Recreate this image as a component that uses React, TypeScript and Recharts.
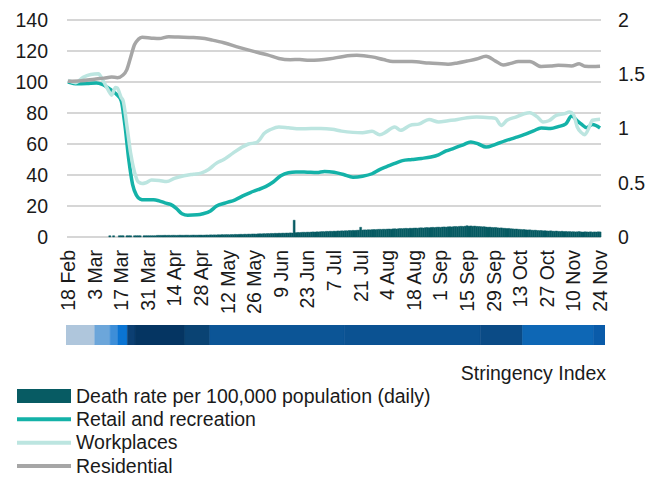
import React from "react";
import { ComposedChart, BarChart, Bar, Line, XAxis, YAxis, CartesianGrid } from "recharts";

// Tick labels every 14 days, starting 18 Feb
const tickLabels = [
  "18 Feb", "3 Mar", "17 Mar", "31 Mar", "14 Apr", "28 Apr", "12 May", "26 May",
  "9 Jun", "23 Jun", "7 Jul", "21 Jul", "4 Aug", "18 Aug", "1 Sep", "15 Sep",
  "29 Sep", "13 Oct", "27 Oct", "10 Nov", "24 Nov",
];

// Daily death rate per 100,000 population (right axis), day 0 = 18 Feb
const deathRate = [
  0, 0, 0, 0, 0, 0, 0,
  0, 0, 0, 0, 0, 0, 0,
  0, 0, 0, 0, 0, 0, 0,
  0, 0.012, 0, 0.012, 0, 0, 0.012,
  0.012, 0.012, 0, 0.012, 0.012, 0.012, 0,
  0.012, 0.012, 0.012, 0.012, 0, 0.012, 0.012,
  0.012, 0.012, 0.012, 0.012, 0.012, 0.015, 0.015,
  0.015, 0.015, 0.016, 0.015, 0.016, 0.015, 0.016,
  0.016, 0.015, 0.016, 0.017, 0.016, 0.016, 0.017,
  0.017, 0.016, 0.017, 0.018, 0.017, 0.017, 0.018,
  0.018, 0.017, 0.018, 0.019, 0.018, 0.02, 0.019,
  0.02, 0.019, 0.021, 0.02, 0.022, 0.021, 0.022,
  0.022, 0.021, 0.023, 0.022, 0.024, 0.023, 0.024,
  0.025, 0.024, 0.026, 0.025, 0.027, 0.026, 0.028,
  0.028, 0.027, 0.029, 0.03, 0.029, 0.031, 0.03,
  0.032, 0.031, 0.033, 0.032, 0.034, 0.033, 0.035,
  0.034, 0.036, 0.035, 0.037, 0.036, 0.038, 0.037,
  0.155, 0.04, 0.042, 0.041, 0.043, 0.044, 0.043,
  0.045, 0.044, 0.046, 0.047, 0.046, 0.048, 0.047,
  0.049, 0.05, 0.049, 0.052, 0.051, 0.053, 0.052,
  0.054, 0.053, 0.056, 0.055, 0.057, 0.056, 0.058,
  0.057, 0.06, 0.059, 0.061, 0.06, 0.062, 0.063,
  0.09, 0.064, 0.066, 0.065, 0.067, 0.066, 0.068,
  0.069, 0.068, 0.07, 0.071, 0.07, 0.072, 0.071,
  0.073, 0.074, 0.072, 0.075, 0.076, 0.074, 0.077,
  0.078, 0.077, 0.079, 0.08, 0.078, 0.081, 0.08,
  0.082, 0.083, 0.081, 0.084, 0.085, 0.083, 0.086,
  0.087, 0.085, 0.088, 0.089, 0.087, 0.09, 0.091,
  0.089, 0.092, 0.093, 0.091, 0.094, 0.095, 0.093,
  0.096, 0.097, 0.095, 0.098, 0.099, 0.097, 0.1,
  0.104, 0.1, 0.102, 0.099, 0.101, 0.098, 0.097,
  0.096, 0.094, 0.095, 0.092, 0.09, 0.091, 0.088,
  0.087, 0.088, 0.085, 0.083, 0.084, 0.081, 0.08,
  0.078, 0.079, 0.076, 0.075, 0.073, 0.074, 0.071,
  0.07, 0.068, 0.069, 0.066, 0.065, 0.066, 0.063,
  0.062, 0.063, 0.06, 0.059, 0.06, 0.057, 0.058,
  0.056, 0.055, 0.057, 0.054, 0.053, 0.055, 0.052,
  0.051, 0.053, 0.05, 0.051, 0.049, 0.05, 0.048,
  0.049, 0.047, 0.048, 0.05, 0.047, 0.046, 0.048,
  0.047, 0.046, 0.048, 0.045, 0.047, 0.046, 0.048,
  0.047,
];

// Mobility series (left axis): [day, index]
const retailPoints: [number, number][] = [
  [0, 100], [5, 98.8], [10, 99], [15, 99.4], [18, 98.5], [22, 95.5], [26, 91.5],
  [28, 88], [30, 72], [32, 50], [34, 34], [36, 27], [38, 24.5], [40, 24], [45, 24],
  [48, 23.3], [51, 22], [54, 21], [57, 18.5], [60, 15], [63, 14], [68, 14.3],
  [71, 15], [75, 16.8], [78, 19.8], [83, 22], [88, 24], [92, 26.5], [96, 28.7],
  [100, 30.5], [104, 32.5], [108, 35.5], [112, 39.5], [116, 41.5], [120, 42],
  [126, 41.8], [131, 41.6], [135, 42.3], [140, 41.8], [145, 40.3], [150, 38.6],
  [155, 39.2], [160, 40.8], [164, 43.5], [168, 45.5], [172, 47.5], [176, 49.3],
  [181, 50], [186, 50.7], [191, 51.6], [195, 53], [199, 55.5], [203, 57.2],
  [208, 59.5], [212, 61.3], [216, 60], [220, 58], [225, 59.8], [230, 62],
  [235, 64], [240, 66], [245, 68.5], [249, 70.3], [254, 70], [258, 71.2],
  [262, 73], [265, 78], [268, 75], [270, 73], [273, 70.5], [276, 72.5], [280, 70.3],
];

const workplacesPoints: [number, number][] = [
  [0, 101], [4, 99.5], [8, 103], [12, 104.8], [16, 105.3], [18, 102], [20, 97.5],
  [22, 93], [23, 91.5], [25, 96.5], [26, 96], [28, 90], [29, 88], [31, 72], [33, 54],
  [35, 42], [37, 35.5], [39, 34.5], [41, 35], [44, 36.8], [48, 36.5], [52, 35.8],
  [56, 37.8], [61, 39.5], [66, 40.5], [70, 41.2], [74, 43.5], [78, 47.5], [82, 50],
  [87, 54.3], [91, 57.5], [95, 60], [99, 60.8], [101, 63], [103, 66.5], [107, 69.5],
  [111, 71], [116, 70.5], [122, 69.8], [128, 70], [133, 70], [139, 69.5],
  [144, 68.3], [150, 67.5], [155, 67.3], [160, 68.2], [164, 66], [167, 67.5],
  [170, 70], [172, 71], [175, 68.8], [180, 72], [185, 73], [190, 75.8], [195, 74.2],
  [200, 75], [205, 75.8], [210, 77], [215, 77.5], [222, 77], [225, 76.5], [228, 72],
  [231, 75.3], [236, 77.5], [240, 79.5], [243, 80.2], [247, 77.5], [250, 74.2],
  [253, 75], [257, 78.5], [261, 79.5], [264, 80.6], [266, 79], [268, 71], [270, 67.5],
  [272, 66], [274, 70], [276, 75.3], [280, 76],
];

const residentialPoints: [number, number][] = [
  [0, 100.5], [7, 100.8], [14, 101.8], [19, 102.5], [23, 103.2], [26, 102.8],
  [29, 104.5], [31, 108], [33, 116], [35, 124], [37, 127.5], [39, 128.8], [44, 128.3],
  [48, 128], [53, 129.2], [58, 129], [66, 128.7], [72, 128], [76, 127], [82, 125.3],
  [90, 122.3], [100, 119], [105, 117.5], [111, 115.2], [117, 114.4], [122, 114.5],
  [127, 114], [132, 114.2], [138, 115], [145, 116.5], [152, 117.2], [160, 116.2],
  [166, 114.5], [171, 113.2], [181, 113.2], [190, 112.2], [200, 111.5], [205, 112.3],
  [210, 113.5], [215, 114.8], [220, 116.6], [225, 113.5], [229, 111], [233, 112],
  [237, 113.2], [243, 113.3], [249, 110], [254, 110.3], [258, 110.8], [265, 110.4],
  [269, 111.8], [272, 110.2], [276, 110], [280, 110.2],
];

// Stringency index strip: segment lengths in days
const stringencyDays = [15, 8, 4, 5, 4, 26, 13, 70, 71, 22, 37, 6];
const stringencyColors = [
  "#afc6dc", "#6ca6da", "#3d8ed8", "#0a74d3", "#0c3f72", "#053562", "#0a4373",
  "#0c5596", "#0b5292", "#0b4b86", "#0e67b5", "#0a5ba9",
];

const leftTicks = [0, 20, 40, 60, 80, 100, 120, 140];
const rightTicks = [0, 0.5, 1, 1.5, 2];

const toMap = (pts: [number, number][]) => new Map(pts.map(([d, v]) => [d, v]));
const retailMap = toMap(retailPoints);
const workMap = toMap(workplacesPoints);
const resMap = toMap(residentialPoints);

const table = deathRate.map((v, i) => ({
  day: i,
  death: v,
  retail: retailMap.has(i) ? retailMap.get(i) : null,
  workplaces: workMap.has(i) ? workMap.get(i) : null,
  residential: resMap.has(i) ? resMap.get(i) : null,
}));

const stripRow: Record<string, any> = { name: "s" };
stringencyDays.forEach((d, i) => (stripRow["s" + i] = d));
const stripTotal = stringencyDays.reduce((a, b) => a + b, 0);

const FONT = "'Liberation Sans', Arial, sans-serif";
const FS = 19.5;
const TXT = "#1a1a1a";

const COLORS = {
  death: "#075b63",
  retail: "#14b2a8",
  workplaces: "#bce5e0",
  residential: "#a6a6a6",
};

const XTick = (props: any) => {
  const { x, y, payload } = props;
  const label = tickLabels[Math.round(payload.value / 14)] ?? "";
  return (
    <text
      x={x}
      y={y}
      transform={`rotate(-90 ${x} ${y})`}
      textAnchor="end"
      dominantBaseline="central"
      fontSize={FS}
      fill={TXT}
      fontFamily={FONT}
    >
      {label}
    </text>
  );
};

export default function App() {
  return (
    <div
      style={{
        position: "absolute",
        left: 0,
        top: 0,
        width: 664,
        height: 477,
        background: "#fff",
        fontFamily: FONT,
      }}
    >
      <div style={{ position: "absolute", left: 0, top: 0 }}>
        <ComposedChart
          width={664}
          height={320}
          data={table}
          margin={{ top: 20, right: 0, bottom: 0, left: 0 }}
          barCategoryGap={0}
          barGap={0}
        >
          <CartesianGrid yAxisId="left" vertical={false} stroke="#c8c8c8" strokeWidth={1.3} />
          <XAxis
            dataKey="day"
            interval={13}
            axisLine={false}
            tickLine={false}
            tickSize={0}
            tickMargin={13}
            height={83}
            tick={<XTick />}
          />
          <YAxis
            yAxisId="left"
            domain={[0, 140]}
            ticks={leftTicks}
            width={67}
            axisLine={false}
            tickLine={false}
            tickMargin={13}
            tick={{ fontSize: FS, fill: TXT, fontFamily: FONT }}
          />
          <YAxis
            yAxisId="right"
            orientation="right"
            domain={[0, 2]}
            ticks={rightTicks}
            width={63}
            axisLine={false}
            tickLine={false}
            tickMargin={11}
            tick={{ fontSize: FS, fill: TXT, fontFamily: FONT }}
          />
          <Bar
            yAxisId="right"
            dataKey="death"
            fill={COLORS.death}
            stroke={COLORS.death}
            strokeWidth={0.4}
            isAnimationActive={false}
          />
          <Line
            yAxisId="left"
            dataKey="retail"
            stroke={COLORS.retail}
            strokeWidth={3.5}
            dot={false}
            activeDot={false}
            connectNulls
            type="monotone"
            isAnimationActive={false}
          />
          <Line
            yAxisId="left"
            dataKey="workplaces"
            stroke={COLORS.workplaces}
            strokeWidth={3.5}
            dot={false}
            activeDot={false}
            connectNulls
            type="monotone"
            isAnimationActive={false}
          />
          <Line
            yAxisId="left"
            dataKey="residential"
            stroke={COLORS.residential}
            strokeWidth={3.5}
            dot={false}
            activeDot={false}
            connectNulls
            type="monotone"
            isAnimationActive={false}
          />
        </ComposedChart>
      </div>

      <div style={{ position: "absolute", left: 66, top: 325 }}>
        <BarChart
          width={539}
          height={20}
          layout="vertical"
          data={[stripRow]}
          margin={{ top: 0, right: 0, bottom: 0, left: 0 }}
          barCategoryGap={0}
          barGap={0}
        >
          <XAxis type="number" domain={[0, stripTotal]} hide />
          <YAxis type="category" dataKey="name" hide />
          {stringencyDays.map((_, i) => (
            <Bar
              key={i}
              dataKey={"s" + i}
              stackId="s"
              fill={stringencyColors[i]}
              stroke={stringencyColors[i]}
              strokeWidth={0.5}
              isAnimationActive={false}
            />
          ))}
        </BarChart>
      </div>

      <svg
        width={664}
        height={477}
        style={{ position: "absolute", left: 0, top: 0, pointerEvents: "none" }}
      >
        <text x={606} y={380} textAnchor="end" fontSize={FS} fill={TXT} fontFamily={FONT}>
          Stringency Index
        </text>
        <rect x={17} y={389} width={54} height={14} fill={COLORS.death} />
        <text x={76} y={402.7} fontSize={FS} fill={TXT} fontFamily={FONT}>
          Death rate per 100,000 population (daily)
        </text>
        <line x1={17} x2={71} y1={419.3} y2={419.3} stroke={COLORS.retail} strokeWidth={4} />
        <text x={76} y={426} fontSize={FS} fill={TXT} fontFamily={FONT}>
          Retail and recreation
        </text>
        <line x1={17} x2={71} y1={442.7} y2={442.7} stroke={COLORS.workplaces} strokeWidth={4} />
        <text x={76} y={449.3} fontSize={FS} fill={TXT} fontFamily={FONT}>
          Workplaces
        </text>
        <line x1={17} x2={71} y1={466} y2={466} stroke={COLORS.residential} strokeWidth={4} />
        <text x={76} y={472.7} fontSize={FS} fill={TXT} fontFamily={FONT}>
          Residential
        </text>
      </svg>
    </div>
  );
}
